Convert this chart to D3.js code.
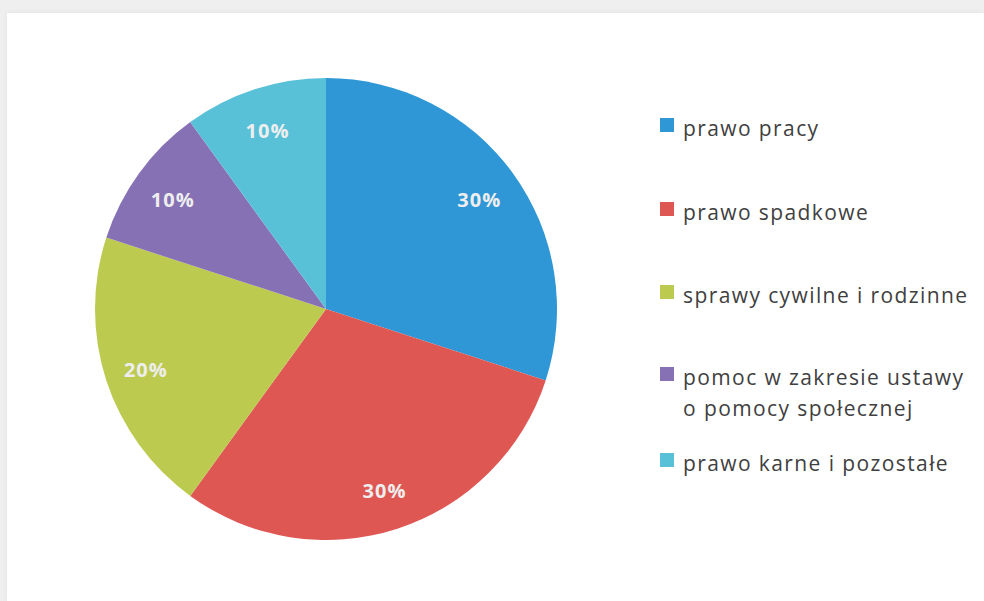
<!DOCTYPE html>
<html>
<head>
<meta charset="utf-8">
<script src="https://cdn.jsdelivr.net/npm/d3@7"></script>
<style>
    body { margin: 0; background: #efefef; }
    #chartContainer {
        position: absolute; left: 7px; top: 13px;
        width: 977px; height: 588px;
        background: #ffffff;
        box-shadow: 0 0 6px rgba(0,0,0,0.06);
    }
</style>
</head>
<body>
<div id="chartContainer"></div>
<script>
// categories and shares (percent)
const categories = ["prawo pracy", "prawo spadkowe", "sprawy cywilne i rodzinne",
    "pomoc w zakresie ustawy o pomocy społecznej", "prawo karne i pozostałe"];
const legend_lines = [["prawo pracy"], ["prawo spadkowe"], ["sprawy cywilne i rodzinne"],
    ["pomoc w zakresie ustawy", "o pomocy społecznej"], ["prawo karne i pozostałe"]];
const shares = [30, 30, 20, 10, 10];
const colors = ["#2f97d5", "#df5753", "#bccb50", "#8671b5", "#58c1d8"];

const width = 977, height = 588;

let svg = d3.select('#chartContainer')
    .append("svg")
    .attr("width", width)
    .attr("height", height);

// pie, offset by the panel position
let g = svg.append("g")
    .attr("transform", "translate(" + (326 - 7) + "," + (309 - 13) + ")");

const radius = 231;

let pie = d3.pie().sort(null).value(d => d);
let arc = d3.arc().innerRadius(0).outerRadius(radius);
let labelArc = d3.arc().innerRadius(radius * 0.82).outerRadius(radius * 0.82);

let arcs = pie(shares);

g.selectAll("path")
    .data(arcs)
    .enter()
    .append("path")
    .attr("fill", (d, i) => colors[i])
    .attr("d", arc);

g.selectAll("text.pct")
    .data(arcs)
    .enter()
    .append("text")
    .attr("class", "pct")
    .attr("transform", d => "translate(" + labelArc.centroid(d) + ")")
    .attr("text-anchor", "middle")
    .attr("dy", "0.45em")
    .attr("fill", "#eeeeee")
    .attr("font-family", "Open Sans, sans-serif")
    .attr("font-weight", "bold")
    .attr("font-size", "20px")
    .attr("letter-spacing", "1px")
    .text(d => d.data + "%");

// legend (baselines)
const legend_y = [136, 220, 303, 385, 471];
let legend = svg.append("g").attr("transform", "translate(-7,-13)");

let items = legend.selectAll("g.item")
    .data(categories)
    .enter()
    .append("g")
    .attr("class", "item")
    .attr("transform", (d, i) => "translate(660," + legend_y[i] + ")");

items.append("rect")
    .attr("x", 0).attr("y", -18)
    .attr("width", 14).attr("height", 14)
    .attr("fill", (d, i) => colors[i]);

items.each(function(d, i) {
    let t = d3.select(this).append("text")
        .attr("x", 23)
        .attr("fill", "#404040")
        .attr("font-family", "Open Sans, sans-serif")
        .attr("font-size", "21px")
        .attr("letter-spacing", "1.4px");
    legend_lines[i].forEach((line, j) => {
        t.append("tspan")
            .attr("x", 23)
            .attr("y", j * 31)
            .text(line);
    });
});
</script>
</body>
</html>
